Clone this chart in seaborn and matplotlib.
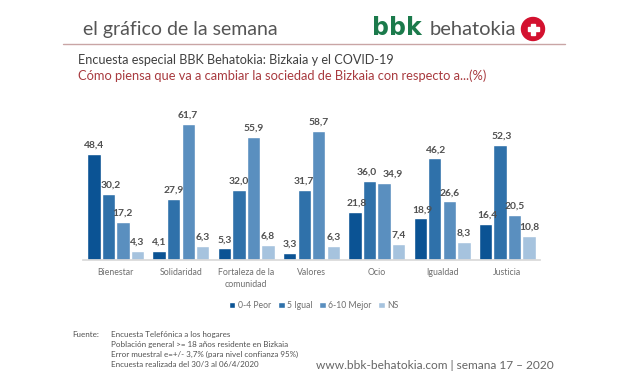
import pandas as pd
import seaborn as sns
import matplotlib.pyplot as plt
from matplotlib.patches import Circle, Rectangle

categorias = ["Bienestar", "Solidaridad", "Fortaleza de la\ncomunidad", "Valores", "Ocio", "Igualdad", "Justicia"]
peor = [48.4, 4.1, 5.3, 3.3, 21.8, 18.9, 16.4]
igual = [30.2, 27.9, 32.0, 31.7, 36.0, 46.2, 52.3]
mejor = [17.2, 61.7, 55.9, 58.7, 34.9, 26.6, 20.5]
ns = [4.3, 6.3, 6.8, 6.3, 7.4, 8.3, 10.8]
series = ["0-4 Peor", "5 Igual", "6-10 Mejor", "NS"]
colores = ["#0b5394", "#2f71aa", "#5a8fbf", "#a6c3de"]
fuente = ["Encuesta Telefónica a los hogares",
          "Población general >= 18 años residente en Bizkaia",
          "Error muestral e=+/- 3,7% (para nivel confianza 95%)",
          "Encuesta realizada del 30/3 al 06/4/2020"]

W, H = 627, 376
sns.set_theme(style="white")
plt.rcParams["font.family"] = ["Lato", "DejaVu Sans"]

df = pd.DataFrame({"categoria": categorias, series[0]: peor, series[1]: igual, series[2]: mejor, series[3]: ns})
df = df.melt(id_vars="categoria", var_name="serie", value_name="valor")

fig = plt.figure(figsize=(W / 100, H / 100), dpi=100, facecolor="white")
ax = fig.add_axes([83 / W, 1 - 260 / H, 457 / W, 154 / H])
sns.barplot(data=df, x="categoria", y="valor", hue="serie", palette=colores, saturation=1,
            width=0.89, gap=0.08, ax=ax)
ax.set_ylim(0, 70)
ax.set_xlim(-0.5, 6.5)
ax.set_xlabel("")
ax.set_ylabel("")
ax.set_yticks([])
sns.despine(ax=ax, left=True)
ax.spines["bottom"].set_color("#d9d9d9")
ax.tick_params(axis="x", length=0, labelsize=6.3, labelcolor="#6f6f6f", pad=6)
for t in ax.get_xticklabels():
    t.set_linespacing(1.45)

# etiquetas con coma decimal, algunas desplazadas como en el original
ajustes = {(1, 0): 2, (1, 4): -2, (2, 4): 6.5, (0, 4): 1.5, (0, 5): 1.5, (0, 6): 1.5, (1, 5): 1, (1, 6): 1}
for j, cont in enumerate(ax.containers):
    etiquetas = ax.bar_label(cont, labels=[f"{b.get_height():.1f}".replace(".", ",") for b in cont],
                             fontsize=7.4, color="#505050", fontweight="bold", padding=3)
    for i, et in enumerate(etiquetas):
        et.set_x(ajustes.get((j, i), 0))

ax.legend(loc="center", bbox_to_anchor=(0.505, -0.295), ncol=4, frameon=False, fontsize=6.2,
          labelcolor="#6f6f6f", handlelength=0.8, handleheight=0.8, handletextpad=0.3, columnspacing=0.75)

# capa en pixeles para cabecera y pie
over = fig.add_axes([0, 0, 1, 1], facecolor="none")
over.set_xlim(0, W)
over.set_ylim(H, 0)
over.axis("off")

over.text(83, 35, "el gráfico de la semana", fontsize=14, color="#555555", va="baseline")
over.plot([63, 565], [44, 44], color="#c9a5a5", lw=1)
over.text(372, 35, "bbk", fontsize=17, color="#1b7a4b", family="DejaVu Sans", fontweight="bold", va="baseline")
over.text(430, 35, "behatokia", fontsize=14.5, color="#555555", va="baseline")
over.add_patch(Circle((533, 29), 11.5, color="#d3112f"))
over.add_patch(Rectangle((527.5, 27), 11, 4, color="white"))
over.add_patch(Rectangle((531, 23.5), 4, 11, color="white"))

over.text(78, 64, "Encuesta especial BBK Behatokia: Bizkaia y el COVID-19", fontsize=9.05, color="#404040", va="baseline")
over.text(78, 80, "Cómo piensa que va a cambiar la sociedad de Bizkaia con respecto a...(%)", fontsize=9.3, color="#a83a3f", va="baseline")

over.text(72, 337, "Fuente:", fontsize=5.8, color="#505050", va="baseline")
for i, linea in enumerate(fuente):
    over.text(111, 337 + i * 10, linea, fontsize=5.8, color="#505050", va="baseline")
over.text(316, 369, "www.bbk-behatokia.com | semana 17 – 2020", fontsize=8.6, color="#666666", va="baseline")

fig.savefig("out.png", dpi=100, facecolor="white")
